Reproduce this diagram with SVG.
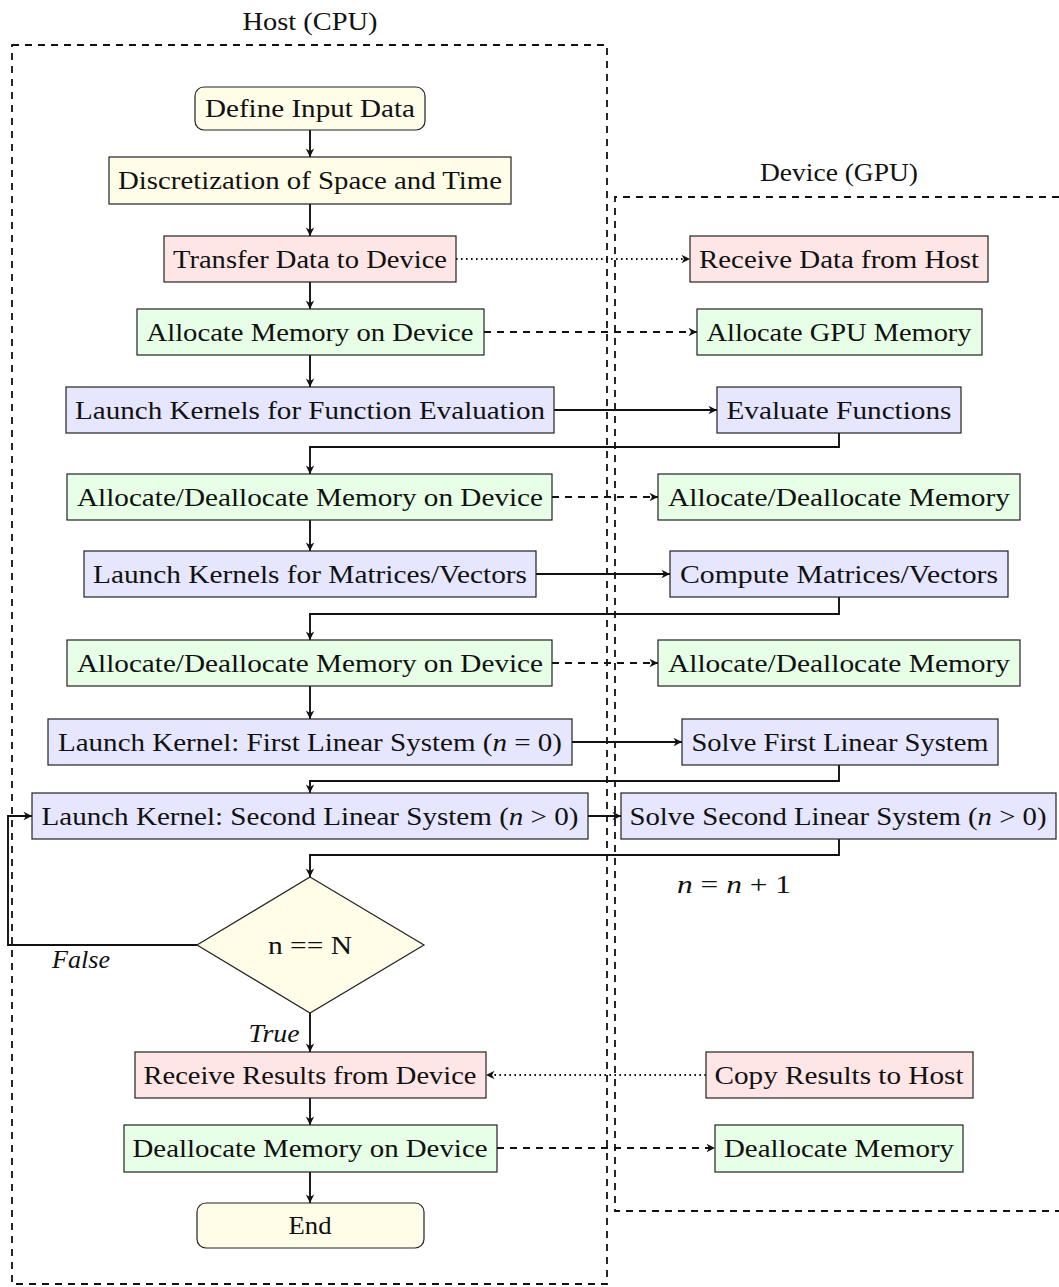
<svg xmlns="http://www.w3.org/2000/svg" width="1059" height="1287" viewBox="0 0 1059 1287">
<style>
text{font-family:"Liberation Serif","DejaVu Serif",serif;font-size:26px;fill:#111;text-anchor:middle}
.it{font-style:italic}
.n{stroke:#222;stroke-width:1.2}
.y{fill:#FFFDE8}.p{fill:#FFE6E6}.g{fill:#E6FFE6}.b{fill:#E6E6FF}
.frame{fill:none;stroke:#111;stroke-width:1.8;stroke-dasharray:7 6}
.c{fill:none;stroke:#111;stroke-width:1.9}
.dash{stroke-dasharray:7 6}
.dot{stroke-dasharray:1.6 3.4}
</style>
<defs>
<marker id="ah" viewBox="-10 -6 12 12" refX="0" refY="0" markerWidth="12" markerHeight="12" markerUnits="userSpaceOnUse" orient="auto">
<path d="M0,0 L-8.5,-4.2 L-6,0 L-8.5,4.2 Z" fill="#111"/>
</marker>
</defs>
<g id="frames">
<rect class="frame" x="12" y="45" width="595" height="1239"/>
<path class="frame" d="M1059,197 H615 V1211 H1059"/>
<text x="310" y="30" textLength="135" lengthAdjust="spacingAndGlyphs">Host (CPU)</text>
<text x="839" y="181" textLength="158" lengthAdjust="spacingAndGlyphs">Device (GPU)</text>
</g>
<g id="connectors">
<path class="c" d="M310,130 V157" marker-end="url(#ah)"/>
<path class="c" d="M310,204 V236" marker-end="url(#ah)"/>
<path class="c" d="M310,282 V309" marker-end="url(#ah)"/>
<path class="c" d="M310,355 V387" marker-end="url(#ah)"/>
<path class="c" d="M310,520 V551" marker-end="url(#ah)"/>
<path class="c" d="M310,686 V719" marker-end="url(#ah)"/>
<path class="c" d="M310,1013 V1052" marker-end="url(#ah)"/>
<path class="c" d="M310,1098 V1125" marker-end="url(#ah)"/>
<path class="c" d="M310,1172 V1203" marker-end="url(#ah)"/>
<path class="c dot" d="M456,259 H690" marker-end="url(#ah)"/>
<path class="c dash" d="M484,332 H697" marker-end="url(#ah)"/>
<path class="c" d="M554,410 H717" marker-end="url(#ah)"/>
<path class="c" d="M839,433 V447 H310 V474" marker-end="url(#ah)"/>
<path class="c dash" d="M552,497 H658" marker-end="url(#ah)"/>
<path class="c" d="M536,574 H670" marker-end="url(#ah)"/>
<path class="c" d="M839,597 V614 H310 V640" marker-end="url(#ah)"/>
<path class="c dash" d="M552,663 H658" marker-end="url(#ah)"/>
<path class="c" d="M572,742 H682" marker-end="url(#ah)"/>
<path class="c" d="M839,765 V781 H310 V793" marker-end="url(#ah)"/>
<path class="c" d="M588,816 H621" marker-end="url(#ah)"/>
<path class="c" d="M839,839 V855 H310 V877" marker-end="url(#ah)"/>
<path class="c" d="M197,945 H8 V816 H32" marker-end="url(#ah)"/>
<path class="c dot" d="M706,1075 H486" marker-end="url(#ah)"/>
<path class="c dash" d="M497,1148 H715" marker-end="url(#ah)"/>
<text x="734" y="893" textLength="114" lengthAdjust="spacingAndGlyphs"><tspan class="it">n</tspan> = <tspan class="it">n</tspan> + 1</text>
<text x="81" y="968" class="it" textLength="58" lengthAdjust="spacingAndGlyphs">False</text>
<text x="274" y="1042" class="it" textLength="51" lengthAdjust="spacingAndGlyphs">True</text>
</g>
<g id="define"><rect class="n y" x="195" y="87" width="230" height="43" rx="9"/><text x="310" y="117" textLength="210" lengthAdjust="spacingAndGlyphs">Define Input Data</text></g>
<g id="discretize"><rect class="n y" x="109" y="157" width="402" height="47"/><text x="310" y="189" textLength="384" lengthAdjust="spacingAndGlyphs">Discretization of Space and Time</text></g>
<g id="transfer"><rect class="n p" x="164" y="236" width="292" height="46"/><text x="310" y="268" textLength="274" lengthAdjust="spacingAndGlyphs">Transfer Data to Device</text></g>
<g id="alloc1"><rect class="n g" x="137" y="309" width="347" height="46"/><text x="310" y="341" textLength="327" lengthAdjust="spacingAndGlyphs">Allocate Memory on Device</text></g>
<g id="launchFE"><rect class="n b" x="66" y="387" width="488" height="46"/><text x="310" y="419" textLength="470" lengthAdjust="spacingAndGlyphs">Launch Kernels for Function Evaluation</text></g>
<g id="alloc2"><rect class="n g" x="67" y="474" width="485" height="46"/><text x="310" y="506" textLength="466" lengthAdjust="spacingAndGlyphs">Allocate/Deallocate Memory on Device</text></g>
<g id="launchMV"><rect class="n b" x="84" y="551" width="452" height="46"/><text x="310" y="583" textLength="434" lengthAdjust="spacingAndGlyphs">Launch Kernels for Matrices/Vectors</text></g>
<g id="alloc3"><rect class="n g" x="67" y="640" width="485" height="46"/><text x="310" y="672" textLength="466" lengthAdjust="spacingAndGlyphs">Allocate/Deallocate Memory on Device</text></g>
<g id="launch1"><rect class="n b" x="48" y="719" width="524" height="46"/><text x="310" y="751" textLength="504" lengthAdjust="spacingAndGlyphs">Launch Kernel: First Linear System (<tspan class="it">n</tspan> = 0)</text></g>
<g id="launch2"><rect class="n b" x="32" y="793" width="556" height="46"/><text x="310" y="825" textLength="537" lengthAdjust="spacingAndGlyphs">Launch Kernel: Second Linear System (<tspan class="it">n</tspan> &gt; 0)</text></g>
<g id="decision"><polygon class="n y" points="310,877 424,945 310,1013 197,945"/><text x="310" y="954" textLength="84" lengthAdjust="spacingAndGlyphs">n == N</text></g>
<g id="recvRes"><rect class="n p" x="135" y="1052" width="351" height="46"/><text x="310" y="1084" textLength="333" lengthAdjust="spacingAndGlyphs">Receive Results from Device</text></g>
<g id="dealloc"><rect class="n g" x="124" y="1125" width="373" height="47"/><text x="310" y="1157" textLength="355" lengthAdjust="spacingAndGlyphs">Deallocate Memory on Device</text></g>
<g id="end"><rect class="n y" x="197" y="1203" width="227" height="45" rx="9"/><text x="310" y="1234" textLength="43" lengthAdjust="spacingAndGlyphs">End</text></g>
<g id="recvData"><rect class="n p" x="690" y="236" width="298" height="46"/><text x="839" y="268" textLength="280" lengthAdjust="spacingAndGlyphs">Receive Data from Host</text></g>
<g id="allocGPU"><rect class="n g" x="697" y="309" width="285" height="46"/><text x="839" y="341" textLength="265" lengthAdjust="spacingAndGlyphs">Allocate GPU Memory</text></g>
<g id="evalF"><rect class="n b" x="717" y="387" width="244" height="46"/><text x="839" y="419" textLength="225" lengthAdjust="spacingAndGlyphs">Evaluate Functions</text></g>
<g id="allocD1"><rect class="n g" x="658" y="474" width="362" height="46"/><text x="839" y="506" textLength="342" lengthAdjust="spacingAndGlyphs">Allocate/Deallocate Memory</text></g>
<g id="computeMV"><rect class="n b" x="670" y="551" width="338" height="46"/><text x="839" y="583" textLength="318" lengthAdjust="spacingAndGlyphs">Compute Matrices/Vectors</text></g>
<g id="allocD2"><rect class="n g" x="658" y="640" width="362" height="46"/><text x="839" y="672" textLength="342" lengthAdjust="spacingAndGlyphs">Allocate/Deallocate Memory</text></g>
<g id="solve1"><rect class="n b" x="682" y="719" width="316" height="46"/><text x="840" y="751" textLength="297" lengthAdjust="spacingAndGlyphs">Solve First Linear System</text></g>
<g id="solve2"><rect class="n b" x="621" y="793" width="435" height="46"/><text x="838" y="825" textLength="417" lengthAdjust="spacingAndGlyphs">Solve Second Linear System (<tspan class="it">n</tspan> &gt; 0)</text></g>
<g id="copyRes"><rect class="n p" x="706" y="1052" width="267" height="46"/><text x="839" y="1084" textLength="249" lengthAdjust="spacingAndGlyphs">Copy Results to Host</text></g>
<g id="deallocGPU"><rect class="n g" x="715" y="1125" width="248" height="47"/><text x="839" y="1157" textLength="230" lengthAdjust="spacingAndGlyphs">Deallocate Memory</text></g>
</svg>
